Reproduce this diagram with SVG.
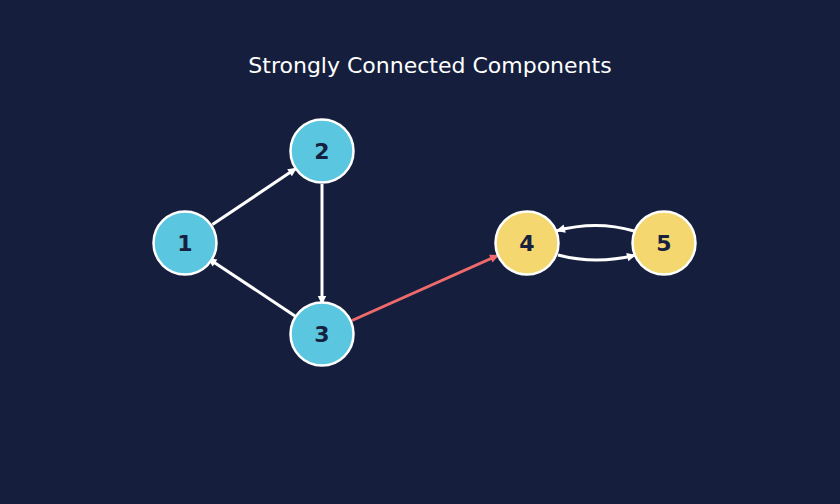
<svg xmlns="http://www.w3.org/2000/svg" width="840" height="504" viewBox="0 0 840 504">
<defs>
<style>
.bg{fill:#151f3d}
.title{font-family:"DejaVu Sans",sans-serif;font-size:22px;fill:#ffffff;text-anchor:middle}
.node circle{stroke:#ffffff;stroke-width:2.5}
.c{fill:#5bc6e0}
.y{fill:#f4d76e}
.node text{font-family:"DejaVu Sans",sans-serif;font-weight:bold;font-size:22px;fill:#16213f;text-anchor:middle;dominant-baseline:central}
.e{fill:none;stroke:#ffffff;stroke-width:3}
.r{stroke:#ef6b6b}
</style>
<marker id="aw" markerUnits="userSpaceOnUse" markerWidth="12" markerHeight="12" refX="10" refY="6" orient="auto"><path d="M1,1.8 L10,6 L1,10.2 z" fill="#ffffff"/></marker>
<marker id="ar" markerUnits="userSpaceOnUse" markerWidth="12" markerHeight="12" refX="10" refY="6" orient="auto"><path d="M1,1.8 L10,6 L1,10.2 z" fill="#ef6b6b"/></marker>
</defs>
<rect class="bg" x="0" y="0" width="840" height="504"/>
<text class="title" x="430" y="73">Strongly Connected Components</text>
<g id="edges">
<path class="e" d="M212.4,224.6 L297,167.8" marker-end="url(#aw)"/>
<path class="e" d="M322,184 L322,305" marker-end="url(#aw)"/>
<path class="e" d="M295,316 L207.5,258" marker-end="url(#aw)"/>
<path class="e r" d="M352,320.5 L499,255" marker-end="url(#ar)"/>
<path class="e" d="M634,231 Q596,220 556,231" marker-end="url(#aw)"/>
<path class="e" d="M558,255 Q596,265 636,255" marker-end="url(#aw)"/>
</g>
<g id="node-1" class="node"><circle class="c" cx="185" cy="243" r="31.5"/><text x="185" y="243">1</text></g>
<g id="node-2" class="node"><circle class="c" cx="322" cy="151" r="31.5"/><text x="322" y="151">2</text></g>
<g id="node-3" class="node"><circle class="c" cx="322" cy="334" r="31.5"/><text x="322" y="334">3</text></g>
<g id="node-4" class="node"><circle class="y" cx="527" cy="243" r="31.5"/><text x="527" y="243">4</text></g>
<g id="node-5" class="node"><circle class="y" cx="664" cy="243" r="31.5"/><text x="664" y="243">5</text></g>
</svg>
